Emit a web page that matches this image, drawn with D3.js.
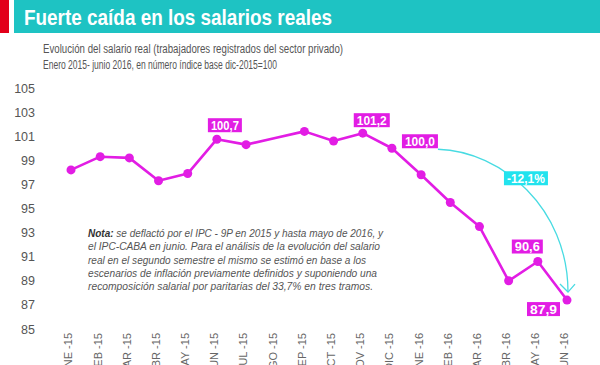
<!DOCTYPE html>
<html>
<head>
<meta charset="utf-8">
<script src="https://cdn.jsdelivr.net/npm/d3@7"></script>
<style>
  body { margin: 0; background: #fff; }
  svg { display: block; font-family: "Liberation Sans", Arial, sans-serif; }
</style>
</head>
<body>
<div class="main_area"></div>
<script>
const months = ["ENE -15", "FEB -15", "MAR -15", "ABR -15", "MAY -15", "JUN -15", "JUL -15", "AGO -15", "SEP -15",
  "OCT -15", "NOV -15", "DIC -15", "ENE -16", "FEB -16", "MAR -16", "ABR -16", "MAY -16", "JUN -16"];
const salario = [98.2, 99.3, 99.2, 97.3, 97.9, 100.75, 100.3, 100.85, 101.4, 100.6, 101.25, 100.0, 97.8, 95.5, 93.5, 89.0, 90.6, 87.4];
// the original has no marker on this month
const noMarker = ["AGO -15"];
const yTicks = [85, 87, 89, 91, 93, 95, 97, 99, 101, 103, 105];
const labelMonths = ["JUN -15", "NOV -15", "DIC -15", "MAY -16", "JUN -16"];
const labelTexts = ["100,7", "101,2", "100,0", "90,6", "87,9"];
const variacion = "-12,1%";

const title = "Fuerte caída en los salarios reales";
const subtitle = ["Evolución del salario real (trabajadores registrados del sector privado)",
  "Enero 2015- junio 2016, en número índice base dic-2015=100"];
const nota = [
  "se deflactó por el IPC - 9P en 2015 y hasta mayo de 2016, y",
  "el IPC-CABA en junio. Para el análisis de la evolución del salario",
  "real en el segundo semestre el mismo se estimó en base a los",
  "escenarios de inflación previamente definidos y suponiendo una",
  "recomposición salarial por paritarias del 33,7% en tres tramos."];

const width = 600, height = 365;
const magenta = "#e21de4", cyan = "#22e3ee";

const svg = d3.select(".main_area").append("svg")
  .attr("width", width)
  .attr("height", height);

// banner
svg.append("rect").attr("x", 0).attr("y", 0).attr("width", 9).attr("height", 33).attr("fill", "#e2001a");
svg.append("rect").attr("x", 14).attr("y", 0).attr("width", width - 14).attr("height", 33).attr("fill", "#1ec3c3");
svg.append("text")
  .attr("x", 24).attr("y", 25)
  .attr("fill", "#fff")
  .attr("font-size", 22)
  .attr("font-weight", "bold")
  .attr("textLength", 308)
  .attr("lengthAdjust", "spacingAndGlyphs")
  .text(title);

svg.selectAll(".subtitle")
  .data(subtitle)
  .enter().append("text")
    .attr("class", "subtitle")
    .attr("x", 43)
    .attr("y", (d, i) => 53 + i * 15.5)
    .attr("fill", "#555")
    .attr("font-size", 12)
    .attr("textLength", (d, i) => i == 0 ? 300 : 234)
    .attr("lengthAdjust", "spacingAndGlyphs")
    .text(d => d);

const x = d3.scalePoint()
  .domain(months)
  .range([71, 567]);

const y = d3.scaleLinear()
  .domain([85, 105])
  .range([329, 88]);

// y axis
const yAxisGroup = svg.append("g")
  .attr("transform", "translate(38,0)")
  .call(d3.axisLeft(y).tickValues(yTicks).tickSize(0).tickPadding(3));
yAxisGroup.select(".domain").remove();
yAxisGroup.selectAll("text")
  .attr("fill", "#555")
  .attr("font-size", 12.5)
  .attr("font-family", "Liberation Sans, Arial, sans-serif");

// x axis, rotated labels (cut off by the bottom edge like the original)
const xAxisGroup = svg.append("g")
  .attr("transform", "translate(0,333)")
  .call(d3.axisBottom(x).tickSize(0));
xAxisGroup.select(".domain").remove();
xAxisGroup.selectAll("text")
  .attr("transform", "rotate(-90)")
  .attr("text-anchor", "end")
  .attr("x", 0)
  .attr("y", 0)
  .attr("dy", "0.08em")
  .attr("fill", "#666")
  .attr("font-size", 11)
  .attr("font-family", "Liberation Sans, Arial, sans-serif");

// nota
const notaText = svg.append("g").attr("font-style", "italic").attr("fill", "#555").attr("font-size", 10);
const notaLens = [295, 292, 278, 289, 285];
nota.forEach(function(line, i) {
  const t = notaText.append("text")
    .attr("x", 88)
    .attr("y", 237 + i * 13.3)
    .attr("textLength", notaLens[i])
    .attr("lengthAdjust", "spacingAndGlyphs");
  if (i == 0) {
    t.append("tspan").attr("font-weight", "bold").attr("fill", "#333").text("Nota:");
    t.append("tspan").text(" " + line);
  } else {
    t.text(line);
  }
});

// arrow -12,1%
const xDic = x("DIC -15"), yDic = y(salario[11]);
const xEnd = x("JUN -16"), yEnd = y(salario[17]);
const p = d3.path();
p.moveTo(xDic + 46, yDic + 1);
p.bezierCurveTo(xDic + 110, yDic + 3, xEnd + 1, yDic + 60, xEnd + 1, yEnd - 8);
svg.append("path")
  .attr("d", p.toString())
  .attr("fill", "none")
  .attr("stroke", "#48dbe2")
  .attr("stroke-width", 1.3);
svg.append("path")
  .attr("d", "M" + (xEnd - 7) + "," + (yEnd - 16) + "L" + (xEnd + 1) + "," + (yEnd - 8) + "L" + (xEnd + 8) + "," + (yEnd - 16))
  .attr("fill", "none")
  .attr("stroke", "#48dbe2")
  .attr("stroke-width", 1.3);

const vg = svg.append("g").attr("transform", "translate(" + [xDic + 112, yDic + 23] + ")");
vg.append("rect").attr("width", 44).attr("height", 14).attr("fill", cyan);
vg.append("text")
  .attr("x", 22).attr("y", 11.5)
  .attr("text-anchor", "middle")
  .attr("fill", "#fff")
  .attr("font-size", 12.5)
  .attr("font-weight", "bold")
  .attr("textLength", 38)
  .attr("lengthAdjust", "spacingAndGlyphs")
  .text(variacion);

// line + dots
const points = months.map((m, i) => ({month: m, value: salario[i]}));

const line = d3.line()
  .x(d => x(d.month))
  .y(d => y(d.value));

svg.append("path")
  .datum(points)
  .attr("d", line)
  .attr("fill", "none")
  .attr("stroke", magenta)
  .attr("stroke-width", 2.6)
  .attr("stroke-linejoin", "round");

svg.selectAll(".dot")
  .data(points.filter(d => !noMarker.includes(d.month)))
  .enter().append("circle")
    .attr("class", "dot")
    .attr("cx", d => x(d.month))
    .attr("cy", d => y(d.value))
    .attr("r", 4.5)
    .attr("fill", magenta);

// value labels
const boxOffsets = {
  "JUN -15": [-9, -21, 34],
  "NOV -15": [-9, -20, 36],
  "DIC -15": [10, -14, 36],
  "MAY -16": [-26, -22, 31],
  "JUN -16": [-40, 2, 33]
};
labelMonths.forEach(function(m, i) {
  const px = x(m), py = y(salario[months.indexOf(m)]);
  const o = boxOffsets[m];
  const g = svg.append("g").attr("transform", "translate(" + [px + o[0], py + o[1]] + ")");
  g.append("rect").attr("width", o[2]).attr("height", 14).attr("fill", magenta);
  g.append("text")
    .attr("x", o[2] / 2).attr("y", 11.5)
    .attr("text-anchor", "middle")
    .attr("fill", "#fff")
    .attr("font-size", 12.5)
    .attr("font-weight", "bold")
    .attr("textLength", o[2] - 6)
    .attr("lengthAdjust", "spacingAndGlyphs")
    .text(labelTexts[i]);
});
</script>
</body>
</html>
